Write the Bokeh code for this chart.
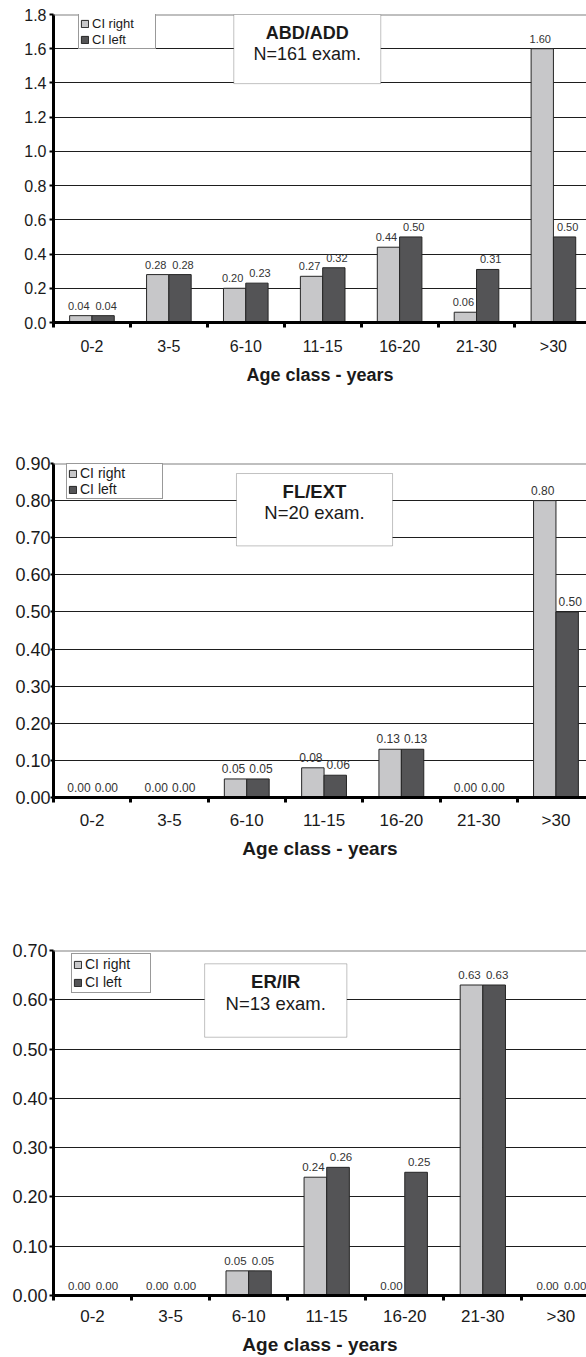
import numpy as np
from bokeh.plotting import figure
from bokeh.models import (FixedTicker, PrintfTickFormatter, Legend, LegendItem,
                          BoxAnnotation, Label, Span, Range1d, ColumnDataSource)
from bokeh.layouts import column
from bokeh.embed import file_html
from bokeh.resources import INLINE
from bokeh.core.properties import value

FONT = "Liberation Sans"

# ---------------- data ----------------
categories = ["0-2", "3-5", "6-10", "11-15", "16-20", "21-30", ">30"]

abd_right = [0.04, 0.28, 0.20, 0.27, 0.44, 0.06, 1.60]
abd_left = [0.04, 0.28, 0.23, 0.32, 0.50, 0.31, 0.50]

fl_right = [0.00, 0.00, 0.05, 0.08, 0.13, 0.00, 0.80]
fl_left = [0.00, 0.00, 0.05, 0.06, 0.13, 0.00, 0.50]

er_right = [0.00, 0.00, 0.05, 0.24, 0.00, 0.63, 0.00]
er_left = [0.00, 0.00, 0.05, 0.26, 0.25, 0.63, 0.00]

abd_yticks = [0.0, 0.2, 0.4, 0.6, 0.8, 1.0, 1.2, 1.4, 1.6, 1.8]
fl_yticks = [0.0, 0.1, 0.2, 0.3, 0.4, 0.5, 0.6, 0.7, 0.8, 0.9]
er_yticks = [0.0, 0.1, 0.2, 0.3, 0.4, 0.5, 0.6, 0.7]

series_names = ["CI right", "CI left"]
x_title = "Age class - years"

LIGHT = "#c7c7c9"
DARK = "#545456"
EDGE = "#262626"


def make_chart(right, left, yticks, yfmt, title1, title2, cfg):
    ymax = yticks[-1]
    p = figure(width=586, height=cfg["height"], output_backend="svg",
               toolbar_location=None,
               x_range=Range1d(0, cfg["xend"]), y_range=Range1d(0, ymax),
               min_border_left=cfg["bl"], min_border_right=0,
               min_border_top=cfg["bt"], min_border_bottom=cfg["bb"])
    p.outline_line_color = None
    p.background_fill_color = "white"
    p.border_fill_color = "white"

    idx = np.arange(len(categories))
    bw = 0.29
    src = ColumnDataSource(dict(
        xr=idx + 0.5 - bw / 2, xl=idx + 0.5 + bw / 2,
        r=right, l=left,
        rt=[f"{v:.2f}" for v in right], lt=[f"{v:.2f}" for v in left]))

    # grid
    p.xgrid.visible = False
    p.ygrid.ticker = FixedTicker(ticks=yticks[:-1])
    p.ygrid.grid_line_color = "#1e1e1e"
    p.ygrid.grid_line_width = 1
    p.add_layout(Span(location=ymax, dimension="width", line_color="#808080",
                      line_width=2))

    rr = p.vbar(x="xr", top="r", width=bw, source=src, fill_color=LIGHT,
                line_color=EDGE, line_width=1)
    rl = p.vbar(x="xl", top="l", width=bw, source=src, fill_color=DARK,
                line_color=EDGE, line_width=1)

    for xcol, ycol, tcol, xo in (("xr", "r", "rt", -2), ("xl", "l", "lt", 3)):
        p.text(x=xcol, y=ycol, text=tcol, source=src, text_align="center",
               text_baseline="bottom", x_offset=xo, y_offset=-cfg["voff"],
               text_font=value(FONT), text_font_size=cfg["vfs"],
               text_color="#333333")

    # y axis
    ya = p.yaxis[0]
    ya.ticker = FixedTicker(ticks=yticks)
    ya.formatter = PrintfTickFormatter(format=yfmt)
    ya.axis_line_width = 3
    ya.axis_line_color = "black"
    ya.major_tick_out = cfg["yto"]
    ya.major_tick_in = 0
    ya.major_tick_line_width = 2
    ya.major_tick_line_color = "black"
    ya.minor_tick_line_color = None
    ya.major_label_standoff = cfg["yso"]
    ya.major_label_text_font = FONT
    ya.major_label_text_font_size = cfg["yfs"]
    ya.major_label_text_color = "#1a1a1a"

    # x axis
    xa = p.xaxis[0]
    xa.ticker = FixedTicker(ticks=[float(i) + 0.5 for i in idx],
                            minor_ticks=[float(i) for i in range(len(categories) + 1)])
    xa.major_label_overrides = {float(i) + 0.5: c for i, c in enumerate(categories)}
    xa.axis_line_width = 3
    xa.axis_line_color = "black"
    xa.major_tick_line_color = None
    xa.major_tick_out = 0
    xa.major_tick_in = 0
    xa.minor_tick_line_color = "black"
    xa.minor_tick_line_width = 3
    xa.minor_tick_out = 5
    xa.minor_tick_in = 0
    xa.major_label_standoff = cfg["xso"]
    xa.major_label_text_font = FONT
    xa.major_label_text_font_size = cfg["xfs"]
    xa.major_label_text_color = "#1a1a1a"
    xa.axis_label = x_title
    xa.axis_label_text_font = FONT
    xa.axis_label_text_font_style = "bold"
    xa.axis_label_text_font_size = cfg["afs"]
    xa.axis_label_text_color = "#1a1a1a"
    xa.axis_label_standoff = cfg["aso"]

    # title box
    bl_, br_, bb_, bt_ = cfg["box"]
    p.add_layout(BoxAnnotation(left=bl_, right=br_, bottom=bb_, top=bt_,
                               fill_color="white", fill_alpha=1.0,
                               line_color="#333333", line_width=1))
    tx, ty1, ty2 = cfg["tpos"]
    p.add_layout(Label(x=tx, y=ty1, text=title1, text_align="center",
                       text_baseline="middle", text_font=FONT,
                       text_font_style="bold", text_font_size=cfg["tfs"],
                       text_color="#1a1a1a"))
    p.add_layout(Label(x=tx, y=ty2, text=title2, text_align="center",
                       text_baseline="middle", text_font=FONT,
                       text_font_size=cfg["tfs"], text_color="#1a1a1a"))

    # legend
    lg = Legend(items=[LegendItem(label=series_names[0], renderers=[rr]),
                       LegendItem(label=series_names[1], renderers=[rl])],
                location=cfg["lloc"], orientation="vertical",
                border_line_color="#333333", border_line_width=1,
                background_fill_color="white", background_fill_alpha=1.0,
                padding=1, spacing=0, margin=0,
                glyph_width=9, glyph_height=9, label_standoff=3,
                label_height=cfg["lh"], label_width=cfg["lw"],
                label_text_font=FONT, label_text_font_size=cfg["lfs"],
                label_text_color="#1a1a1a")
    p.add_layout(lg)
    return p


cfg1 = dict(height=440, bl=42, bt=14, bb=118, xend=6.93,
            voff=6, vfs="11px", yto=4, yso=3, yfs="16px",
            xso=10, xfs="16px", afs="18px", aso=7,
            box=(2.344, 4.255, 1.396, 1.8), tpos=(3.30, 1.692, 1.569), tfs="18px",
            lloc=(25, 273), lh=16, lw=62, lfs="13px")
cfg2 = dict(height=500, bl=53, bt=23, bb=143, xend=6.895,
            voff=6, vfs="12px", yto=3, yso=0, yfs="18px",
            xso=8, xfs="17px", afs="19px", aso=5,
            box=(2.367, 4.386, 0.678, 0.873), tpos=(3.376, 0.825, 0.767), tfs="18.5px",
            lloc=(13, 298), lh=16, lw=81, lfs="14px")
cfg3 = dict(height=417, bl=50, bt=10, bb=61, xend=6.828,
            voff=6, vfs="11.5px", yto=4, yso=2, yfs="18px",
            xso=6, xfs="17px", afs="19px", aso=5,
            box=(1.936, 3.758, 0.524, 0.673), tpos=(2.847, 0.637, 0.593), tfs="18.5px",
            lloc=(18, 302), lh=18, lw=64, lfs="14px")

p1 = make_chart(abd_right, abd_left, abd_yticks, "%.1f", "ABD/ADD", "N=161 exam.", cfg1)
p2 = make_chart(fl_right, fl_left, fl_yticks, "%.2f", "FL/EXT", "N=20 exam.", cfg2)
p3 = make_chart(er_right, er_left, er_yticks, "%.2f", "ER/IR", "N=13 exam.", cfg3)

layout = column(p1, p2, p3, spacing=0)

open("out.html", "w").write(file_html(layout, INLINE))
